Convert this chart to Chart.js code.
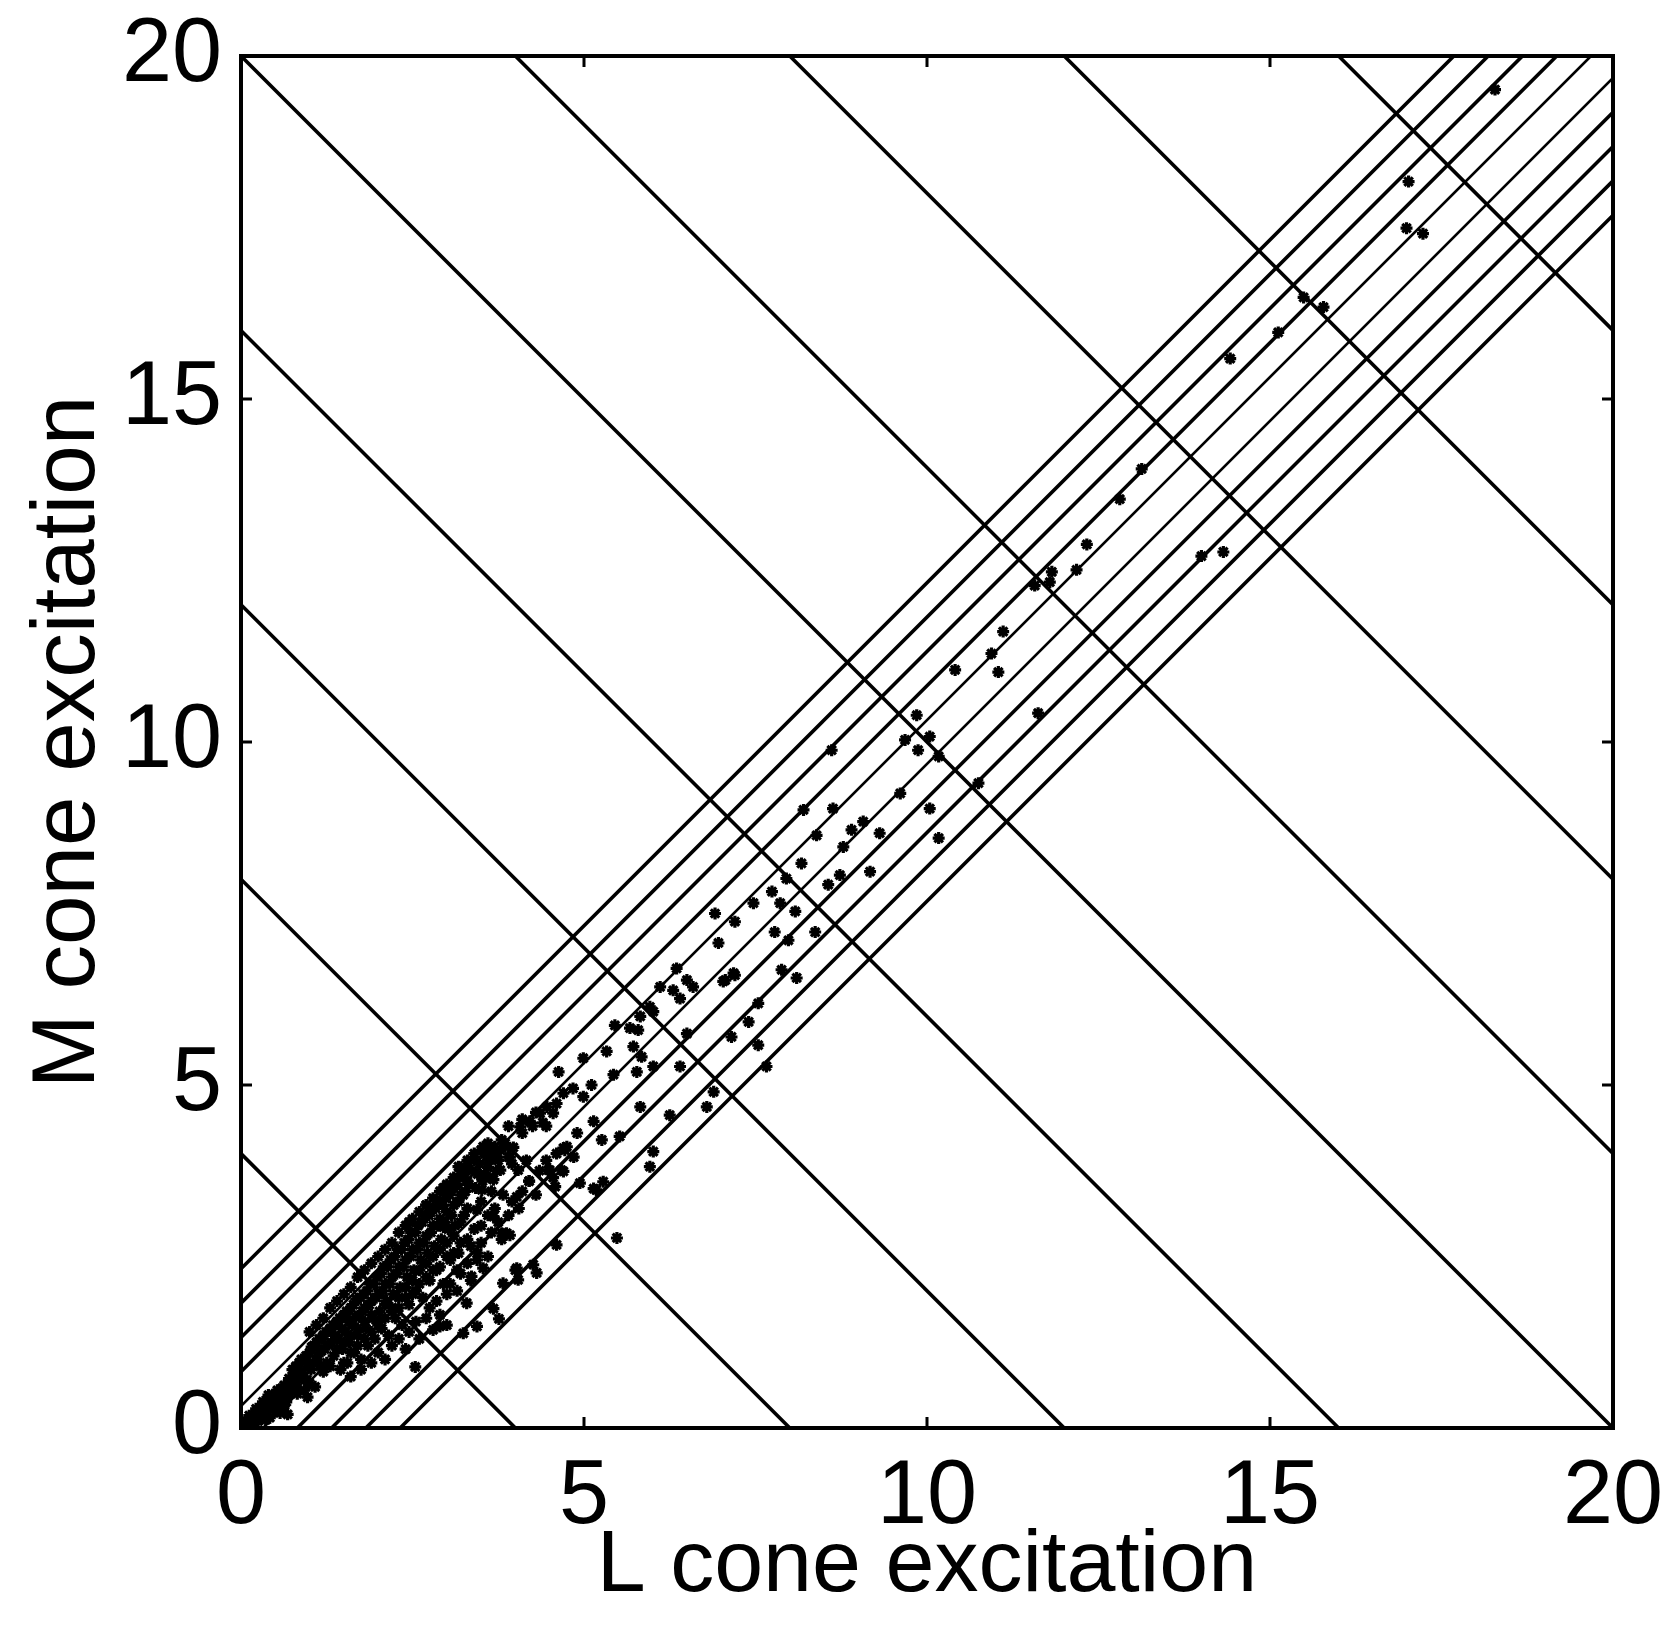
<!DOCTYPE html>
<html>
<head>
<meta charset="utf-8">
<script src="https://cdn.jsdelivr.net/npm/chart.js@4.4.1/dist/chart.umd.min.js"></script>
<style>
  html, body { margin: 0; padding: 0; background: #fff; }
</style>
</head>
<body>
<canvas id="coneChart" width="1669" height="1644"></canvas>
<script>
// axis range and ticks
const axisMin = 0;
const axisMax = 20;
const tickStep = 5;

// iso-luminance lines: L + M = const
const sumLevels = [4, 8, 12, 16, 20, 24, 28, 32, 36];
// lines parallel to the diagonal: M - L = const
const diffLevels = [2.32, 1.82, 1.32, 0.82, 0.32, -0.32, -0.82, -1.32, -1.82, -2.32];
const diffWidths = [3.6, 3.6, 3.6, 3.6, 2.6, 2.6, 3.6, 3.6, 3.6, 3.6];

// samples near the origin (dense cloud)
const cloudL = [0.02, 0.10, 0.15, 0.20, 0.25, 0.30, 0.35, 0.38, 0.42, 0.45, 0.50, 0.52, 0.55, 0.60, 0.62, 0.65, 0.70, 0.72, 0.68, 0.75,
  0.80, 0.82, 0.85, 0.90, 0.92, 0.95, 0.98, 0.97, 1.00, 1.03, 1.05, 1.10, 1.12, 1.08, 1.15, 1.20, 1.22, 1.25, 1.30, 1.32,
  1.35, 1.40, 1.42, 1.45, 1.48, 1.50, 1.52, 1.55, 1.58, 1.60, 1.62, 1.65, 1.68, 1.70, 1.72, 1.75, 1.78, 1.80, 1.82, 1.85,
  1.88, 1.90, 1.92, 1.95, 1.98, 2.00, 2.02, 2.05, 2.08, 2.10, 2.12, 2.15, 2.18, 2.20, 2.22, 2.25, 2.28, 2.30, 2.32, 2.35,
  2.38, 2.40, 2.42, 2.45, 2.48, 2.50, 2.52, 2.55, 2.58, 2.60, 2.62, 2.65, 2.68, 2.70, 2.72, 2.75, 2.78, 2.80, 2.82, 2.85,
  2.88, 2.90, 2.92, 2.95, 2.98, 3.00, 3.02, 3.05, 3.08, 3.10, 3.12, 3.15, 3.18, 3.20, 3.25, 3.30, 3.32, 3.35, 3.40, 3.45,
  3.50, 3.55, 3.60, 3.65, 3.70, 3.75, 3.80, 0.40, 0.88, 1.18,
  0.05, 0.12, 0.18, 0.22, 0.28, 0.32, 0.36, 0.40, 0.44, 0.48, 0.53, 0.57, 0.58, 0.63, 0.66, 0.70, 0.74, 0.77, 0.80, 0.84,
  0.87, 0.93, 0.96, 1.00, 1.02, 1.06, 1.10, 1.14, 1.17, 1.20, 1.24, 1.27, 1.30, 1.34, 1.37, 1.40, 1.44, 1.47, 1.50, 1.54,
  1.57, 1.60, 1.64, 1.67, 1.70, 1.74, 1.77, 1.80, 1.84, 1.87, 1.90, 1.94, 1.97, 2.00, 2.04, 2.07, 2.10, 2.14, 2.17, 2.20,
  2.24, 2.27, 2.30, 2.34, 2.37, 2.40, 2.44, 2.47, 2.50, 2.54, 2.57, 2.60, 2.64, 2.67, 2.70, 2.74, 2.77, 2.80, 2.84, 2.87,
  2.90, 2.94, 2.97, 3.00, 3.04, 3.07, 3.10, 3.14, 3.17, 3.20, 3.24, 3.27, 3.30, 3.37, 3.42, 3.48, 3.52, 3.58, 3.62, 3.68,
  3.72, 3.78, 3.85, 3.90];
const cloudM = [0.02, 0.05, 0.12, 0.20, 0.10, 0.30, 0.22, 0.40, 0.15, 0.32, 0.50, 0.25, 0.40, 0.58, 0.30, 0.45, 0.72, 0.55, 0.20, 0.85,
  0.62, 0.50, 0.95, 0.75, 0.55, 1.05, 0.88, 0.45, 0.65, 1.18, 0.95, 1.25, 1.05, 0.60, 0.90, 1.35, 1.15, 0.95, 1.45, 1.25,
  1.05, 1.55, 1.30, 0.85, 1.15, 1.65, 1.40, 0.95, 1.25, 1.75, 1.50, 1.10, 1.88, 1.35, 1.62, 1.00, 1.95, 1.75, 1.45, 1.20,
  2.10, 1.85, 1.60, 1.30, 2.20, 1.95, 1.70, 1.45, 2.35, 2.10, 1.85, 1.35, 2.45, 2.20, 1.95, 1.60, 2.60, 2.35, 2.05, 1.50,
  2.70, 2.45, 2.20, 1.80, 2.85, 2.60, 2.30, 2.00, 2.95, 2.70, 2.45, 1.90, 3.10, 2.80, 2.55, 2.15, 3.20, 2.95, 2.65, 2.30,
  3.30, 3.05, 2.75, 2.10, 3.35, 3.15, 2.90, 2.45, 3.50, 3.25, 2.95, 2.30, 3.65, 3.40, 3.10, 3.80, 3.55, 2.65, 3.90, 3.70,
  3.30, 4.00, 3.80, 3.45, 4.10, 3.90, 4.20, 0.48, 1.00, 1.30,
  0.08, 0.18, 0.08, 0.28, 0.18, 0.38, 0.12, 0.28, 0.45, 0.36, 0.55, 0.22, 0.48, 0.62, 0.38, 0.50, 0.68, 0.78, 0.90, 0.70,
  0.82, 0.98, 0.70, 1.10, 0.85, 1.20, 0.98, 1.30, 1.12, 0.82, 1.40, 1.22, 0.90, 1.50, 1.35, 1.15, 1.60, 1.45, 1.25, 1.70,
  1.55, 1.35, 1.80, 1.62, 1.45, 1.90, 1.70, 1.55, 2.00, 1.80, 1.65, 2.10, 1.90, 1.50, 2.25, 2.00, 1.80, 2.35, 2.10, 1.70,
  2.50, 2.25, 1.90, 2.60, 2.35, 2.05, 2.75, 2.50, 2.15, 2.85, 2.60, 2.30, 3.00, 2.70, 2.40, 3.10, 2.85, 2.50, 3.20, 2.95,
  2.60, 3.25, 3.00, 2.70, 3.40, 3.10, 2.80, 3.55, 3.30, 3.00, 3.70, 3.45, 3.20, 3.75, 3.50, 3.85, 3.60, 3.95, 3.65, 4.00,
  3.75, 4.05, 4.10, 3.95];

// edges of the cloud, upper and lower side
const edgeL = [1.00, 1.10, 1.20, 1.30, 1.40, 1.50, 1.60, 1.70, 1.80, 1.90, 2.00, 2.10, 2.20, 2.30, 2.40, 2.50, 2.60, 2.70, 2.80, 2.90,
  3.00, 3.10, 3.20, 3.30, 3.40, 3.50, 3.60,
  1.50, 1.60, 1.70, 1.80, 1.90, 2.00, 2.10, 2.20, 2.30, 2.40, 2.50, 2.60, 2.70, 2.80, 2.90, 3.00, 3.10, 3.20, 3.30, 3.40,
  3.50, 3.60, 3.70];
const edgeM = [1.40, 1.50, 1.60, 1.75, 1.85, 1.95, 2.05, 2.20, 2.30, 2.40, 2.50, 2.60, 2.70, 2.85, 2.95, 3.05, 3.15, 3.25, 3.35, 3.45,
  3.55, 3.65, 3.75, 3.90, 4.00, 4.05, 4.15,
  0.95, 1.10, 1.20, 1.30, 1.40, 1.55, 1.60, 1.75, 1.75, 1.90, 1.95, 2.10, 2.20, 2.30, 2.35, 2.50, 2.55, 2.70, 2.75, 2.90,
  2.95, 3.10, 3.20];

// looser halo of samples just below and above the cloud
const haloL = [1.60, 1.75, 1.90, 2.00, 2.10, 2.20, 2.30, 2.40, 2.45, 2.55, 2.60, 2.70, 2.75, 2.85, 2.90, 3.00, 3.05, 3.15, 3.20, 3.30,
  3.35, 3.45, 3.50, 3.60, 3.65, 3.75, 3.80, 3.90, 3.95, 4.05, 4.10, 4.20, 4.30, 4.35, 4.45, 4.55, 4.60, 4.75, 4.85, 4.90,
  3.90, 4.10, 4.30, 4.45, 3.20, 2.95, 2.70, 2.45];
const haloM = [0.75, 0.85, 0.95, 1.10, 1.00, 1.20, 1.30, 1.15, 1.40, 1.55, 1.30, 1.60, 1.75, 1.85, 1.65, 1.95, 2.10, 2.00, 2.25, 2.40,
  2.15, 2.55, 2.70, 2.50, 2.85, 3.00, 2.75, 3.10, 3.30, 3.20, 3.45, 3.60, 3.40, 3.75, 3.90, 3.65, 4.00, 4.10, 3.95, 4.30,
  4.40, 4.50, 4.60, 4.40, 3.80, 3.50, 3.25, 3.00];

// remaining samples, read along the diagonal band
const bandL = [2.54, 2.80, 3.00, 3.24, 3.44, 3.29, 3.68, 2.90, 3.76, 2.95, 3.17, 3.36, 3.44, 3.53, 3.82, 4.04, 4.00, 4.26, 4.31, 4.02,
  3.80, 3.92, 3.87, 4.60, 5.48, 3.44, 3.68, 3.24, 3.82, 4.02, 3.51, 3.05, 3.17, 3.53, 3.63, 3.97, 4.16, 3.92, 3.73, 3.58,
  4.04, 3.78, 3.68, 4.48, 4.67, 4.50, 4.70, 4.94, 5.14, 5.28, 4.58, 5.18, 4.72, 5.26, 5.52, 4.70, 5.14, 4.84, 4.70, 4.60,
  4.55, 4.36, 4.21, 4.07, 4.99, 4.46, 5.11, 4.63, 4.99, 5.43, 5.77, 6.01, 6.40, 5.33, 5.84, 5.72, 5.82, 6.25, 6.01, 5.96,
  5.45, 5.67, 5.79, 6.50, 5.96, 6.01, 5.82, 6.40, 6.50, 6.59, 6.30, 6.11, 6.35, 7.03, 7.18, 7.15, 6.96, 6.89, 6.79, 7.66,
  7.54, 7.40, 7.54, 7.88, 8.10, 7.06, 7.20, 7.78, 7.98, 8.37, 6.91, 7.20, 7.47, 7.74, 7.86, 8.08, 7.95, 8.17, 8.56, 8.73,
  9.17, 8.78, 8.90, 9.07, 9.31, 8.39, 8.20, 8.63, 9.61, 10.04, 10.17, 8.61, 9.68, 9.87, 10.04, 10.17, 9.85, 10.75, 11.62, 10.41,
  10.94, 11.04, 11.11, 11.57, 11.79, 11.82, 12.18, 12.33, 12.81, 13.13, 14.00, 14.32, 14.42, 15.12, 15.49, 15.78, 16.99, 17.23, 17.02, 18.28,
  3.40, 3.62, 3.85, 4.10, 4.25, 4.40, 3.30, 3.55, 3.95, 4.20];
const bandM = [0.89, 1.43, 1.50, 1.38, 1.48, 1.82, 1.74, 1.48, 1.59, 2.93, 2.55, 2.21, 2.45, 2.33, 2.11, 2.16, 2.30, 2.38, 2.26, 2.33,
  2.84, 2.81, 2.84, 2.67, 2.77, 3.18, 3.08, 3.40, 3.40, 3.37, 3.47, 3.54, 3.81, 4.10, 3.91, 4.09, 3.90, 3.95, 3.95, 4.00,
  3.76, 3.76, 3.62, 3.76, 3.76, 3.76, 3.74, 3.57, 3.49, 3.59, 3.52, 3.47, 4.05, 4.20, 4.25, 4.08, 4.47, 4.95, 4.88, 4.73,
  4.59, 4.59, 4.47, 4.39, 4.83, 4.68, 5.00, 5.19, 5.39, 5.15, 5.19, 5.27, 5.27, 5.49, 5.41, 5.56, 4.68, 4.56, 4.03, 3.81,
  5.87, 5.83, 5.80, 5.75, 6.14, 6.07, 6.00, 6.26, 6.53, 6.43, 6.38, 6.43, 6.70, 6.51, 6.63, 5.70, 7.07, 4.90, 4.68, 5.27,
  5.58, 5.92, 6.19, 6.68, 6.56, 6.53, 6.60, 7.23, 7.11, 7.23, 7.50, 7.38, 7.65, 7.82, 7.65, 7.53, 8.01, 8.23, 7.92, 8.06,
  8.11, 8.47, 8.72, 8.84, 8.67, 8.64, 9.01, 9.03, 9.25, 9.03, 8.60, 9.88, 10.03, 9.88, 10.08, 9.79, 10.39, 9.40, 10.42, 11.05,
  11.29, 11.02, 11.61, 12.28, 12.33, 12.48, 12.51, 12.88, 13.54, 13.98, 12.71, 12.77, 15.59, 15.97, 16.48, 16.34, 17.49, 17.41, 18.17, 19.51,
  3.95, 4.05, 4.15, 4.30, 4.40, 4.45, 3.60, 3.70, 3.85, 3.60];

// straight line between the two points where a contour meets the square
function sumLine(c) {
  return [
    { x: Math.max(axisMin, c - axisMax), y: Math.min(axisMax, c) },
    { x: Math.min(axisMax, c), y: Math.max(axisMin, c - axisMax) }
  ];
}
function diffLine(d) {
  return d >= 0
    ? [{ x: axisMin, y: d }, { x: axisMax - d, y: axisMax }]
    : [{ x: -d, y: axisMin }, { x: axisMax, y: axisMax + d }];
}

function pairs(ls, ms) {
  return ls.map((l, i) => ({ x: l, y: ms[i] }));
}

const datasets = [];
sumLevels.forEach((c) => {
  datasets.push({
    data: sumLine(c), showLine: true, borderColor: "#000", borderWidth: 3.6,
    pointRadius: 0, fill: false,
  });
});
diffLevels.forEach((d, i) => {
  datasets.push({
    data: diffLine(d), showLine: true, borderColor: "#000", borderWidth: diffWidths[i],
    pointRadius: 0, fill: false,
  });
});
datasets.push({
  data: pairs(cloudL, cloudM).concat(pairs(edgeL, edgeM), pairs(haloL, haloM), pairs(bandL, bandM)),
  showLine: false, pointStyle: "star", pointRadius: 6, borderColor: "#000",
  backgroundColor: "#000", borderWidth: 3.2,
});

const fontFamily = "'Liberation Sans', Arial, Helvetica, sans-serif";

// box round the plot, with inward ticks on all four sides
const frameTicks = {
  id: "frameTicks",
  afterDatasetsDraw(chart) {
    const { ctx, chartArea: a, scales: { x, y } } = chart;
    const len = 11;
    ctx.save();
    ctx.strokeStyle = "#000";
    ctx.lineWidth = 3;
    ctx.beginPath();
    x.ticks.forEach((t) => {
      const px = x.getPixelForValue(t.value);
      ctx.moveTo(px, a.bottom); ctx.lineTo(px, a.bottom - len);
      ctx.moveTo(px, a.top); ctx.lineTo(px, a.top + len);
    });
    y.ticks.forEach((t) => {
      const py = y.getPixelForValue(t.value);
      ctx.moveTo(a.left, py); ctx.lineTo(a.left + len, py);
      ctx.moveTo(a.right, py); ctx.lineTo(a.right - len, py);
    });
    ctx.stroke();
    ctx.lineWidth = 4;
    ctx.strokeRect(a.left, a.top, a.right - a.left, a.bottom - a.top);
    ctx.restore();
  },
};

new Chart(document.getElementById("coneChart"), {
  type: "scatter",
  data: { datasets },
  options: {
    responsive: false,
    animation: false,
    devicePixelRatio: 1,
    layout: { padding: { top: 56, right: 56, bottom: 0, left: 0 } },
    plugins: { legend: { display: false }, tooltip: { enabled: false } },
    scales: {
      x: {
        type: "linear", min: axisMin, max: axisMax,
        grid: { display: false, drawTicks: false },
        border: { display: false },
        ticks: { stepSize: tickStep, padding: 16, maxRotation: 0, color: "#000",
          font: { family: fontFamily, size: 90 } },
        title: { display: true, text: "L cone excitation", color: "#000",
          font: { family: fontFamily, size: 88 }, padding: { top: 0, bottom: 24 } },
        afterFit(scale) {
          scale.height = 216;
          scale.paddingLeft = 0;
          scale.paddingRight = 0;
        },
      },
      y: {
        type: "linear", min: axisMin, max: axisMax,
        grid: { display: false, drawTicks: false },
        border: { display: false },
        ticks: { stepSize: tickStep, padding: 19, color: "#000",
          font: { family: fontFamily, size: 90 } },
        title: { display: true, text: "M cone excitation", color: "#000",
          font: { family: fontFamily, size: 89 }, padding: { top: 16, bottom: 0 } },
        afterFit(scale) {
          scale.width = 241;
          scale.paddingTop = 0;
          scale.paddingBottom = 0;
        },
      },
    },
  },
  plugins: [frameTicks],
});
</script>
</body>
</html>
